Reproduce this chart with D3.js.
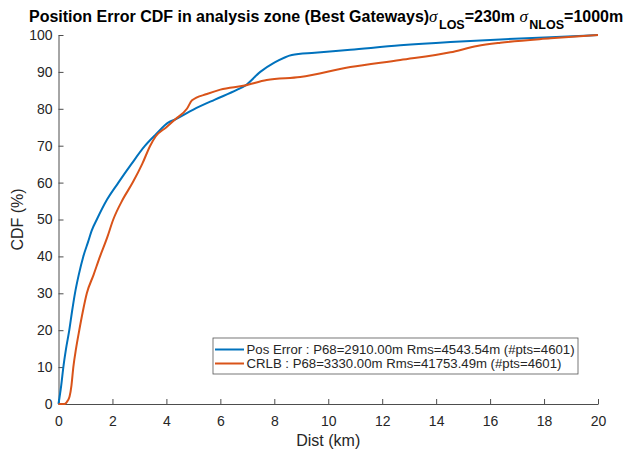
<!DOCTYPE html>
<html>
<head>
<meta charset="utf-8">
<script src="https://cdn.jsdelivr.net/npm/d3@7"></script>
<style>
  html, body { margin: 0; padding: 0; background: #fff; }
  svg { display: block; font-family: "Liberation Sans", Arial, Helvetica, sans-serif; }
</style>
</head>
<body>
<svg id="chart" width="634" height="451"></svg>
<script>
// ---- Data ----
const posErrorDist = [0, 0.1, 0.18, 0.28, 0.40, 0.5, 0.61, 0.75, 0.92, 1.1, 1.23, 1.42, 1.8, 2.22, 2.7, 3.21, 3.6, 4.08, 4.32, 5.0, 5.8, 6.61, 6.92, 7.48, 8.0, 8.65, 9.5, 10.82, 12.67, 14.53, 16.38, 18.24, 20];
const posErrorCdf  = [0, 5, 10, 15, 20, 25, 30, 35, 40, 44, 47, 50, 55.4, 60, 65, 70, 73, 76.3, 77.1, 79.8, 82.5, 85.1, 86.3, 90, 92.5, 94.6, 95.2, 96.0, 97.2, 98.1, 98.8, 99.4, 100];

const crlbDist = [0, 0.22, 0.35, 0.41, 0.48, 0.55, 0.65, 0.77, 0.9, 1.05, 1.3, 1.54, 1.8, 2.03, 2.38, 2.75, 3.1, 3.40, 3.6, 4.0, 4.32, 4.76, 4.95, 5.5, 6.0, 6.9, 7.72, 8.96, 10.82, 12.67, 14.53, 15.52, 16.38, 18.24, 20];
const crlbCdf  = [0, 0, 1, 2, 5, 10, 15, 20, 25, 30, 35, 40, 45, 50, 55.4, 60, 65, 70, 72.5, 75, 77.1, 80, 82.3, 84.0, 85.2, 86.3, 87.8, 88.6, 91.3, 93.2, 95.3, 97.0, 97.9, 99.1, 100];

const seriesNames = [
  "Pos Error : P68=2910.00m Rms=4543.54m (#pts=4601)",
  "CRLB : P68=3330.00m Rms=41753.49m (#pts=4601)"
];
const seriesColors = ["#0072BD", "#D95319"];

const xTickValues = [0, 2, 4, 6, 8, 10, 12, 14, 16, 18, 20];
const yTickValues = [0, 10, 20, 30, 40, 50, 60, 70, 80, 90, 100];

// ---- Layout ----
const svg = d3.select("#chart");
const mLeft = 58.5, mRight = 598, mTop = 35, mBottom = 404;

const x = d3.scaleLinear().domain([0, 20]).range([mLeft, mRight]);
const y = d3.scaleLinear().domain([0, 100]).range([mBottom, mTop]);

const axisColor = "#4d4d4d";
const textColor = "#262626";

// X axis (ticks inward)
const xAxis = svg.append("g")
  .attr("transform", `translate(0,${mBottom})`)
  .call(d3.axisBottom(x).tickValues(xTickValues).tickSizeInner(-5).tickSizeOuter(0).tickPadding(12).tickFormat(d3.format("d")));
xAxis.select(".domain").attr("stroke", axisColor).attr("stroke-width", 1);
xAxis.selectAll(".tick line").attr("stroke", axisColor);
xAxis.selectAll(".tick text").attr("fill", textColor).attr("font-size", 14)
  .attr("font-family", '"Liberation Sans", Arial, sans-serif');

// Y axis (ticks inward)
const yAxis = svg.append("g")
  .attr("transform", `translate(${mLeft},0)`)
  .call(d3.axisLeft(y).tickValues(yTickValues).tickSizeInner(-5).tickSizeOuter(0).tickPadding(6).tickFormat(d3.format("d")));
yAxis.select(".domain").attr("stroke", axisColor).attr("stroke-width", 1);
yAxis.selectAll(".tick line").attr("stroke", axisColor);
yAxis.selectAll(".tick text").attr("fill", textColor).attr("font-size", 14)
  .attr("font-family", '"Liberation Sans", Arial, sans-serif');

// Axis labels
svg.append("text")
  .attr("x", (mLeft + mRight) / 2).attr("y", 446)
  .attr("text-anchor", "middle").attr("font-size", 16).attr("fill", textColor)
  .text("Dist (km)");
svg.append("text")
  .attr("transform", `translate(23,${(mTop + mBottom) / 2}) rotate(-90)`)
  .attr("text-anchor", "middle").attr("font-size", 16).attr("fill", textColor)
  .text("CDF (%)");

// Title
const title = svg.append("text").attr("x", 29).attr("y", 22)
  .attr("font-size", 16).attr("font-weight", "bold").attr("fill", "#000");
title.append("tspan").text("Position Error CDF in analysis zone (Best Gateways)");
title.append("tspan").attr("font-family", '"Liberation Serif", "DejaVu Serif", serif')
  .attr("font-style", "italic").attr("font-weight", "normal").attr("font-size", 17).text("σ");
title.append("tspan").attr("font-size", 12.5).attr("dy", 6.5).attr("dx", 1.5).text("LOS");
title.append("tspan").attr("dy", -6.5).text("=230m ");
title.append("tspan").attr("font-family", '"Liberation Serif", "DejaVu Serif", serif')
  .attr("font-style", "italic").attr("font-weight", "normal").attr("font-size", 17).text("σ");
title.append("tspan").attr("font-size", 12.5).attr("dy", 6.5).attr("dx", 1.5).text("NLOS");
title.append("tspan").attr("dy", -6.5).text("=1000m");

// Lines
const line = d3.line().x(d => x(d[0])).y(d => y(d[1])).curve(d3.curveMonotoneX);
const series = [
  d3.zip(posErrorDist, posErrorCdf),
  d3.zip(crlbDist, crlbCdf)
];
series.forEach((s, i) => {
  svg.append("path")
    .datum(s)
    .attr("fill", "none")
    .attr("stroke", seriesColors[i])
    .attr("stroke-width", 2)
    .attr("stroke-linejoin", "round")
    .attr("d", line);
});

// Legend
const lg = svg.append("g");
lg.append("rect").attr("x", 213).attr("y", 338).attr("width", 365).attr("height", 36)
  .attr("fill", "#fff").attr("stroke", "#555").attr("stroke-width", 0.8);
seriesNames.forEach((name, i) => {
  const yy = 349.5 + i * 14;
  lg.append("line").attr("x1", 215).attr("x2", 244).attr("y1", yy).attr("y2", yy)
    .attr("stroke", seriesColors[i]).attr("stroke-width", 2);
  lg.append("text").attr("x", 246.5).attr("y", yy + 4.7)
    .attr("font-size", 13.2).attr("fill", textColor).text(name);
});
</script>
</body>
</html>
